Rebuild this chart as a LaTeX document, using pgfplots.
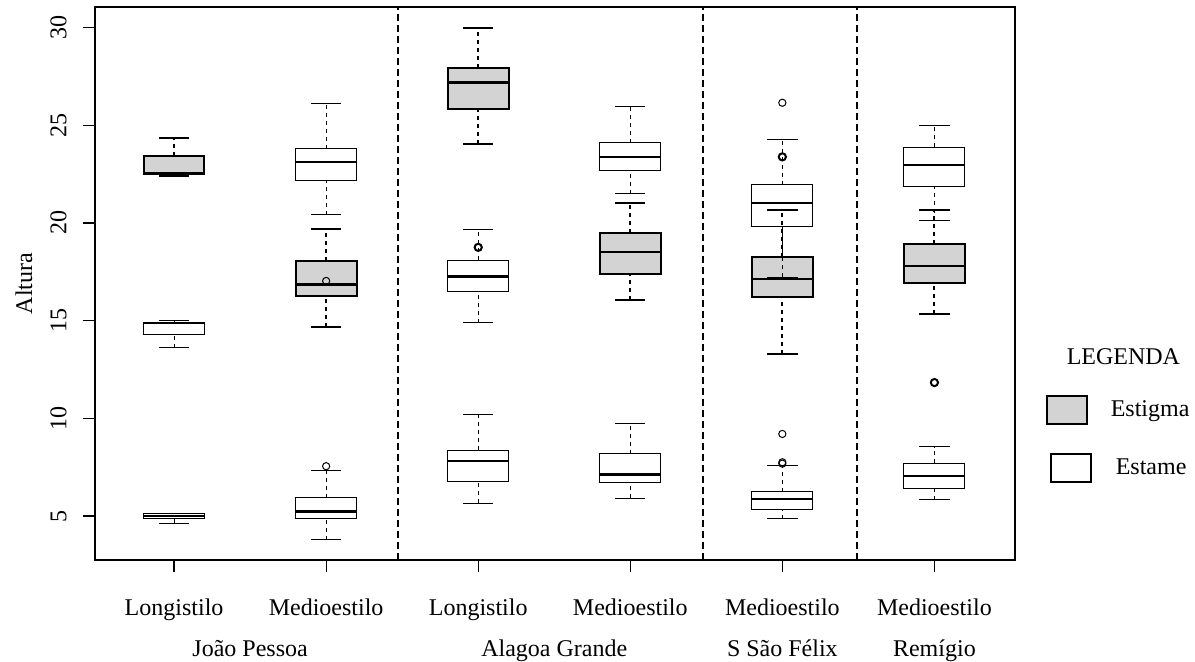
\documentclass[border=0pt]{standalone}
\usepackage{pgfplots}
\pgfplotsset{compat=1.18}
\usepgfplotslibrary{statistics}
\usepackage{fontspec}
\setmainfont{Liberation Serif}

\definecolor{cinza}{HTML}{D3D3D3}

\pgfplotsset{
  boxplot/draw direction=y,
  boxplot/box extend=0.4,
  boxplot/whisker extend=0.2,
  % whiskers as in R: dashed stem, solid cap
  boxplot/draw/lower whisker/.code={%
    \draw[/pgfplots/boxplot/every whisker/.try, dash pattern=on 2pt off 2pt]
      (boxplot box cs:\pgfplotsboxplotvalue{lower whisker},0.5)
      -- (boxplot box cs:\pgfplotsboxplotvalue{lower quartile},0.5);
    \draw[/pgfplots/boxplot/every whisker/.try]
      (boxplot whisker cs:\pgfplotsboxplotvalue{lower whisker},0)
      -- (boxplot whisker cs:\pgfplotsboxplotvalue{lower whisker},1);
  },
  boxplot/draw/upper whisker/.code={%
    \draw[/pgfplots/boxplot/every whisker/.try, dash pattern=on 2pt off 2pt]
      (boxplot box cs:\pgfplotsboxplotvalue{upper quartile},0.5)
      -- (boxplot box cs:\pgfplotsboxplotvalue{upper whisker},0.5);
    \draw[/pgfplots/boxplot/every whisker/.try]
      (boxplot whisker cs:\pgfplotsboxplotvalue{upper whisker},0)
      -- (boxplot whisker cs:\pgfplotsboxplotvalue{upper whisker},1);
  },
  estigma/.style={forget plot, black, line width=1pt,
    mark=o, mark size=1.8pt, mark options={solid},
    boxplot/every box/.style={draw=black, fill=cinza, line width=1pt},
    boxplot/every whisker/.style={black, line width=1pt},
    boxplot/every median/.style={black, line width=1.4pt}},
  estame/.style={forget plot, black, line width=0.5pt,
    mark=o, mark size=1.8pt, mark options={solid},
    boxplot/every box/.style={draw=black, line width=0.5pt},
    boxplot/every whisker/.style={black, line width=0.5pt},
    boxplot/every median/.style={black, line width=1.1pt}},
}

\begin{document}
\begin{tikzpicture}[font=\fontsize{12pt}{14pt}\selectfont]
\path[use as bounding box] (-47.5pt,-51pt) rectangle (550pt,280pt);
\begin{axis}[
  at={(0,0)}, anchor=south west,
  scale only axis, width=460pt, height=276.5pt,
  xmin=0.48, xmax=6.53, ymin=2.75, ymax=31.05,
  clip=false,
  axis line style={black, line width=0.6pt},
  tick style={black, line width=0.6pt},
  tick align=outside, major tick length=6pt,
  xtick pos=bottom, ytick pos=left,
  xtick={1,2,3,4,5,6},
  xticklabels={Longistilo,Medioestilo,Longistilo,Medioestilo,Medioestilo,Medioestilo},
  ytick={5,10,15,20,25,30},
  /pgf/number format/assume math mode=true,
  xticklabel style={anchor=base, inner sep=0pt, yshift=-22pt},
  yticklabel style={xshift=-8pt, rotate=90, anchor=south, inner sep=0pt},
  legend style={draw=none, fill=none, inner sep=0pt,
    at={(rel axis cs:1.033,0.383)}, anchor=north west,
    legend cell align=left, row sep=14pt, column sep=9.5pt,
    nodes={inner sep=0pt}, font=\fontsize{12pt}{14pt}\selectfont},
]

% separadores entre localidades
\addplot[forget plot, black, line width=1pt, dash pattern=on 3.5pt off 2pt] coordinates {(2.47,2.75) (2.47,31.05)};
\addplot[forget plot, black, line width=1pt, dash pattern=on 3.5pt off 2pt] coordinates {(4.48,2.75) (4.48,31.05)};
\addplot[forget plot, black, line width=1pt, dash pattern=on 3.5pt off 2pt] coordinates {(5.49,2.75) (5.49,31.05)};

% Estigma
\addplot[estigma, boxplot prepared={draw position=1, lower whisker=22.42, lower quartile=22.5, median=22.52, upper quartile=23.42, upper whisker=24.35}] coordinates {};
\addplot[estigma, boxplot prepared={draw position=2, lower whisker=14.65, lower quartile=16.25, median=16.83, upper quartile=18.04, upper whisker=19.68}] coordinates {};
\addplot[estigma, boxplot prepared={draw position=3, lower whisker=24.05, lower quartile=25.81, median=27.17, upper quartile=27.91, upper whisker=29.95}] table[row sep=\\, y index=0] {y\\ 18.75\\};
\addplot[estigma, boxplot prepared={draw position=4, lower whisker=16.03, lower quartile=17.39, median=18.51, upper quartile=19.49, upper whisker=21.02}] coordinates {};
\addplot[estigma, boxplot prepared={draw position=5, lower whisker=13.29, lower quartile=16.23, median=17.13, upper quartile=18.24, upper whisker=20.67}] table[row sep=\\, y index=0] {y\\ 23.38\\};
\addplot[estigma, boxplot prepared={draw position=6, lower whisker=15.34, lower quartile=16.91, median=17.79, upper quartile=18.91, upper whisker=20.67}] table[row sep=\\, y index=0] {y\\ 11.83\\};

% Estame (superior)
\addplot[estame, boxplot prepared={draw position=1, lower whisker=13.6, lower quartile=14.3, median=14.88, upper quartile=14.92, upper whisker=15.03}] coordinates {};
\addplot[estame, boxplot prepared={draw position=2, lower whisker=20.43, lower quartile=22.15, median=23.1, upper quartile=23.8, upper whisker=26.1}] table[row sep=\\, y index=0] {y\\ 17.03\\};
\addplot[estame, boxplot prepared={draw position=3, lower whisker=14.88, lower quartile=16.5, median=17.26, upper quartile=18.09, upper whisker=19.64}] coordinates {};
\addplot[estame, boxplot prepared={draw position=4, lower whisker=21.49, lower quartile=22.7, median=23.36, upper quartile=24.1, upper whisker=25.97}] coordinates {};
\addplot[estame, boxplot prepared={draw position=5, lower whisker=17.22, lower quartile=19.82, median=21.02, upper quartile=21.96, upper whisker=24.28}] table[row sep=\\, y index=0] {y\\ 26.15\\};
\addplot[estame, boxplot prepared={draw position=6, lower whisker=20.11, lower quartile=21.87, median=22.96, upper quartile=23.87, upper whisker=24.99}] coordinates {};

% Estame (inferior)
\addplot[estame, boxplot prepared={draw position=1, lower whisker=4.63, lower quartile=4.88, median=5.0, upper quartile=5.15, upper whisker=5.15}] coordinates {};
\addplot[estame, boxplot prepared={draw position=2, lower whisker=3.79, lower quartile=4.87, median=5.23, upper quartile=5.94, upper whisker=7.31}] table[row sep=\\, y index=0] {y\\ 7.55\\};
\addplot[estame, boxplot prepared={draw position=3, lower whisker=5.66, lower quartile=6.77, median=7.82, upper quartile=8.37, upper whisker=10.2}] coordinates {};
\addplot[estame, boxplot prepared={draw position=4, lower whisker=5.9, lower quartile=6.72, median=7.13, upper quartile=8.19, upper whisker=9.71}] coordinates {};
\addplot[estame, boxplot prepared={draw position=5, lower whisker=4.86, lower quartile=5.35, median=5.86, upper quartile=6.24, upper whisker=7.59}] table[row sep=\\, y index=0] {y\\ 9.2\\ 7.75\\ 7.68\\};
\addplot[estame, boxplot prepared={draw position=6, lower whisker=5.84, lower quartile=6.39, median=7.06, upper quartile=7.71, upper whisker=8.55}] coordinates {};

% legenda
\addlegendimage{empty legend}
\addlegendentry{\hspace*{-22pt}LEGENDA}
\addlegendimage{legend image code/.code={\draw[fill=cinza, line width=1pt] (0pt,-7pt) rectangle (20pt,7pt);}}
\addlegendentry{Estigma}
\addlegendimage{legend image code/.code={\draw[line width=1pt] (2pt,-7pt) rectangle (22pt,7pt);}}
\addlegendentry{\hspace*{2.5pt}Estame}

% localidades e eixo y
\node[anchor=base] at ([yshift=-48.5pt]axis cs:1.5,2.75) {João Pessoa};
\node[anchor=base] at ([yshift=-48.5pt]axis cs:3.5,2.75) {Alagoa Grande};
\node[anchor=base] at ([yshift=-48.5pt]axis cs:5,2.75) {S São Félix};
\node[anchor=base] at ([yshift=-48.5pt]axis cs:6,2.75) {Remígio};
\node[rotate=90] at ([xshift=-35.5pt]rel axis cs:0,0.5) {Altura};
\end{axis}
\end{tikzpicture}
\end{document}
